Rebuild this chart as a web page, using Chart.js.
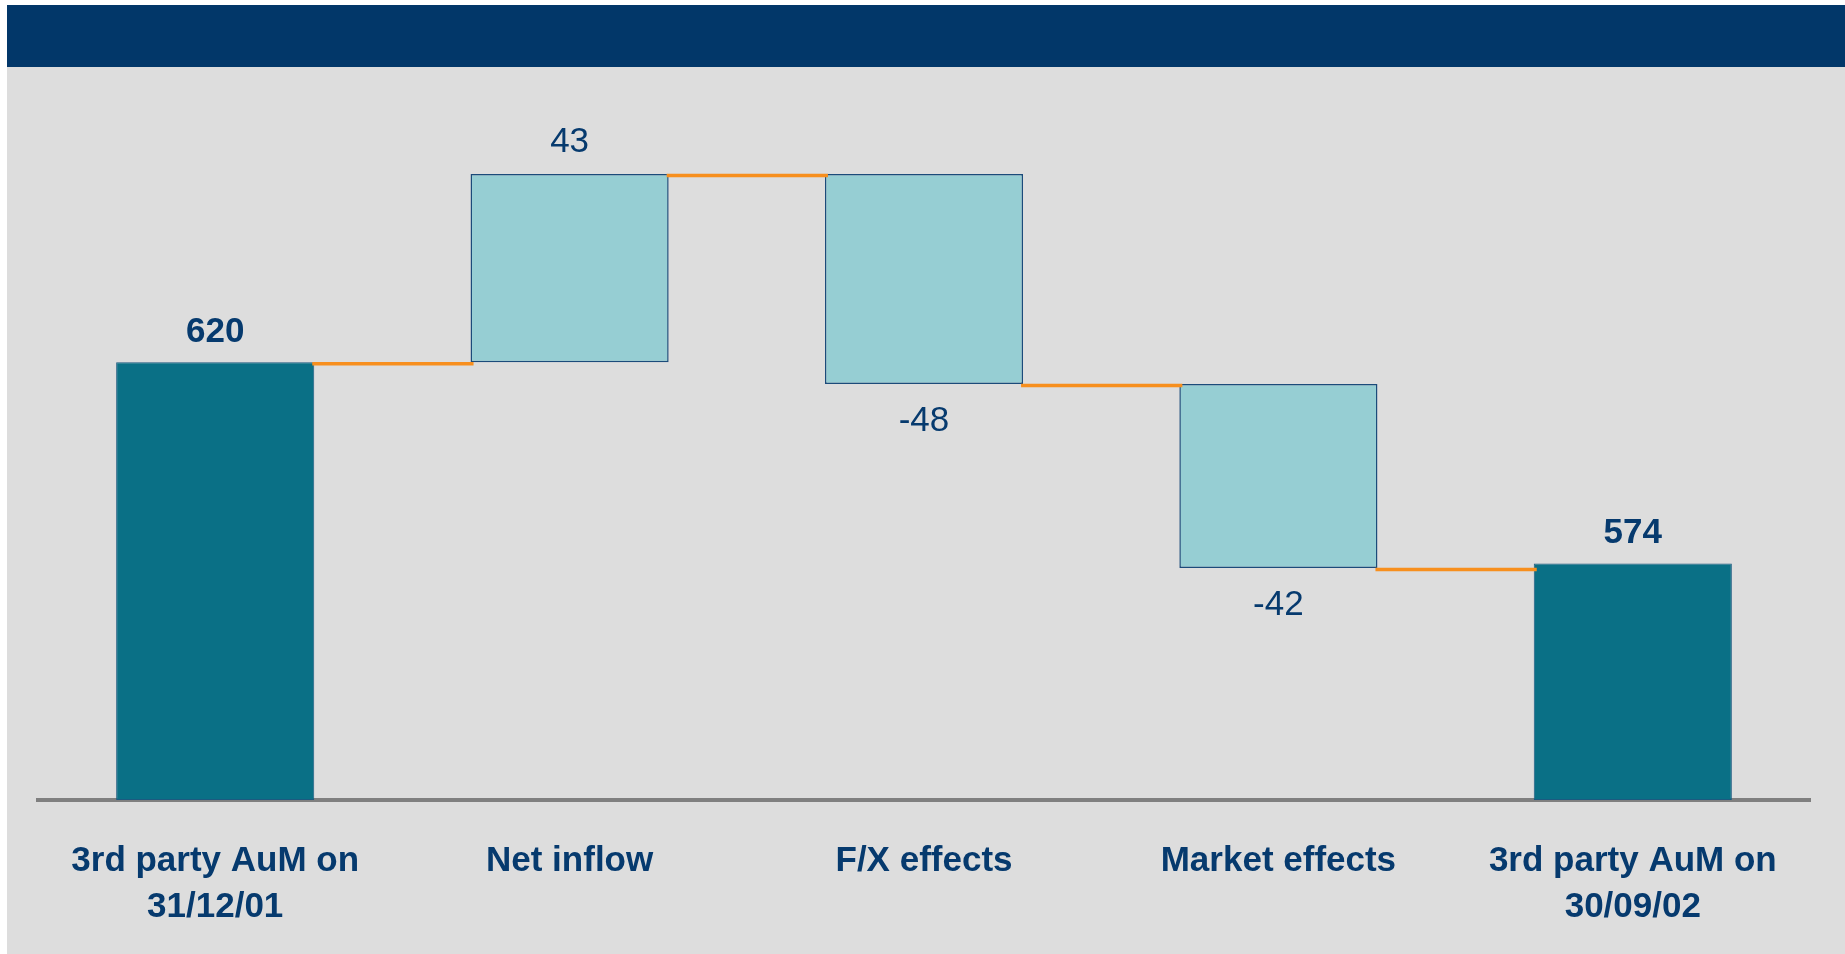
<!DOCTYPE html>
<html>
<head>
<meta charset="utf-8">
<title>3rd party AuM development</title>
<script src="https://cdn.jsdelivr.net/npm/chart.js@4.4.1/dist/chart.umd.min.js"></script>
<style>
  html, body { margin: 0; padding: 0; background: #ffffff; }
  body { width: 1845px; height: 954px; position: relative; overflow: hidden; }
  #panel { position: absolute; left: 7px; top: 5px; right: 0; bottom: 0; background: #dddddd; }
  #band { position: absolute; left: 7px; top: 5px; right: 0; height: 62px; background: #023769; }
  #chart { position: absolute; left: 0; top: 0; display: block; }
</style>
</head>
<body>
<div id="panel"></div>
<div id="band"></div>
<canvas id="chart" width="1845" height="954"></canvas>
<script>
// Bridge categories (two-line labels are arrays)
const categories = [
  ['3rd party AuM on', '31/12/01'],
  'Net inflow',
  'F/X effects',
  'Market effects',
  ['3rd party AuM on', '30/09/02']
];
// Stated values: totals are levels, the middle three are changes
const amounts = [620, 43, -48, -42, 574];
const barKinds = ['total', 'change', 'change', 'change', 'total'];
// Value axis window (the axis is cut, it does not start at zero)
const axisMin = 520;
const axisMax = 684;

const navy = '#063a6e';
const fonts = '"Liberation Sans", Arial, "DejaVu Sans", sans-serif';

// Floating [start, end] ranges and the running level after every bar
const ranges = [];
const levels = [];
let running = 0;
amounts.forEach((v, i) => {
  if (barKinds[i] === 'total') {
    ranges.push([axisMin, v]);
    running = v;
  } else {
    const start = running;
    running = running + v;
    ranges.push([Math.min(start, running), Math.max(start, running)]);
  }
  levels.push(running);
});

// Orange step connectors between consecutive bars, then the value labels
const bridgePlugin = {
  id: 'bridge',
  afterDatasetsDraw(chart) {
    const ctx = chart.ctx;
    const yScale = chart.scales.y;
    const bars = chart.getDatasetMeta(0).data;

    ctx.save();
    ctx.strokeStyle = '#f78f1e';
    ctx.lineWidth = 3.5;
    ctx.lineCap = 'butt';
    for (let i = 0; i < bars.length - 1; i++) {
      const a = bars[i], b = bars[i + 1];
      const y = yScale.getPixelForValue(levels[i]) + 1.5;
      ctx.beginPath();
      ctx.moveTo(a.x + a.width / 2 - 2, y);
      ctx.lineTo(b.x - b.width / 2 + 3, y);
      ctx.stroke();
    }
    ctx.restore();

    ctx.save();
    ctx.fillStyle = navy;
    ctx.textAlign = 'center';
    ctx.textBaseline = 'middle';
    bars.forEach((bar, i) => {
      const top = Math.min(bar.y, bar.base);
      const bottom = Math.max(bar.y, bar.base);
      const v = amounts[i];
      let y;
      if (barKinds[i] === 'total') {
        ctx.font = 'bold 35px ' + fonts;
        y = top - 30;
      } else if (v >= 0) {
        ctx.font = '35px ' + fonts;
        y = top - 32;
      } else {
        ctx.font = '35px ' + fonts;
        y = bottom + 37;
      }
      ctx.fillText(String(v), bar.x, y);
    });
    ctx.restore();
  }
};

new Chart(document.getElementById('chart'), {
  type: 'bar',
  data: {
    labels: categories,
    datasets: [{
      data: ranges,
      backgroundColor: barKinds.map(k => k === 'total' ? '#0a7086' : '#96ced3'),
      borderColor: barKinds.map(k => k === 'total' ? '#1c5a80' : '#1b4b7a'),
      borderWidth: barKinds.map(k => k === 'total' ? 1 : 1.5),
      borderSkipped: false,
      barPercentage: 0.559,
      categoryPercentage: 1.0
    }]
  },
  options: {
    responsive: false,
    animation: false,
    events: [],
    layout: { padding: { top: 82, left: 38, right: 35, bottom: 0 } },
    plugins: {
      legend: { display: false },
      tooltip: { enabled: false },
      title: { display: false }
    },
    scales: {
      x: {
        z: 1,
        grid: { display: false, drawTicks: false },
        border: { display: true, color: '#7f7f7f', width: 4 },
        ticks: {
          autoSkip: false,
          maxRotation: 0,
          minRotation: 0,
          padding: 38,
          color: navy,
          font: { family: fonts, size: 35, weight: 'bold', lineHeight: 1.33 }
        },
        afterFit(scale) { scale.height = 154; }
      },
      y: {
        display: false,
        min: axisMin,
        max: axisMax
      }
    }
  },
  plugins: [bridgePlugin]
});
</script>
</body>
</html>
